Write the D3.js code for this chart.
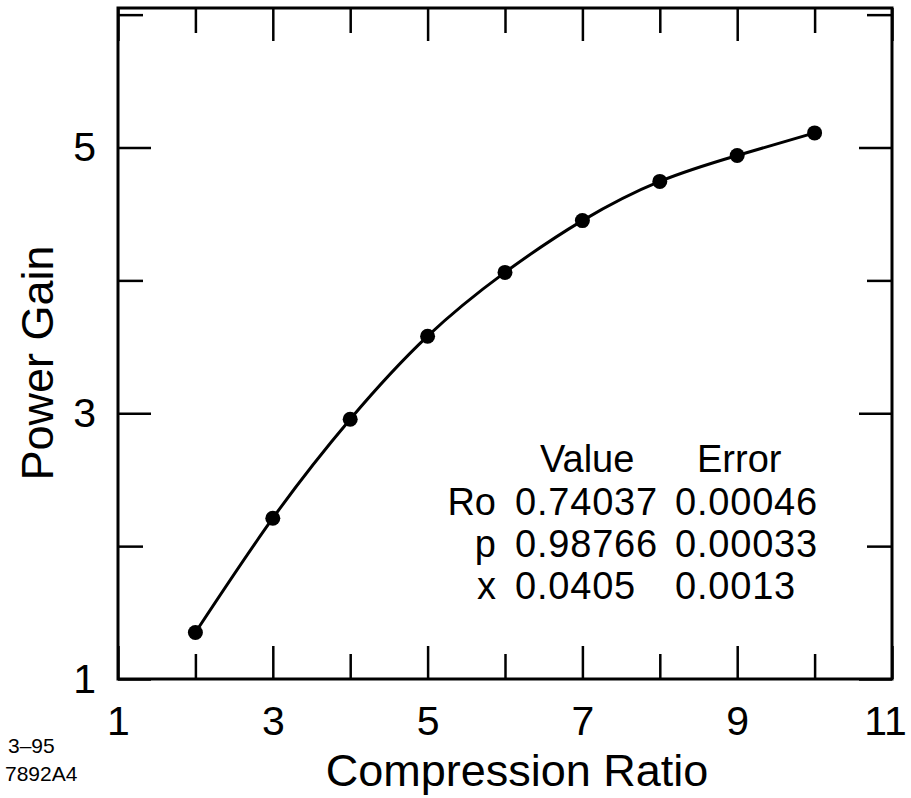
<!DOCTYPE html>
<html>
<head>
<meta charset="utf-8">
<script src="https://cdn.jsdelivr.net/npm/d3@7"></script>
<style>
  html, body { margin: 0; padding: 0; background: #fff; }
  svg { display: block; }
  text { font-family: "Liberation Sans", Arial, Helvetica, sans-serif; fill: #000; }
</style>
</head>
<body>
<script>
// ---- data ----
const compressionRatio = [2, 3, 4, 5, 6, 7, 8, 9, 10];
const powerGain = [1.35, 2.21, 2.955, 3.58, 4.06, 4.45, 4.745, 4.94, 5.11];
const xMajorTicks = [1, 3, 5, 7, 9, 11];
const xMinorTicks = [2, 4, 6, 8, 10];
const yMajorTicks = [1, 3, 5];
const yMinorTicks = [2, 4, 6];
const fitHeader = ["Value", "Error"];
const fitNames = ["Ro", "p", "x"];
const fitValues = ["0.74037", "0.98766", "0.0405"];
const fitErrors = ["0.00046", "0.00033", "0.0013"];
const stamp = ["3\u201395", "7892A4"];

// ---- layout ----
const W = 911, H = 798;
const svg = d3.select("body").append("svg").attr("width", W).attr("height", H);

const x = d3.scaleLinear().domain([1, 11]).range([118, 892]);
const y = d3.scaleLinear().domain([1, 6.05]).range([679, 8]);

const majorLen = 33, minorLen = 25;

function styleAxis(g) {
  g.select(".domain").remove();
  g.selectAll(".tick line").attr("stroke", "#000").attr("stroke-width", 2.5);
  g.selectAll(".tick text").attr("font-size", 41).attr("fill", "#000");
}

// bottom
const xb = svg.append("g").attr("transform", `translate(0,${y(1)})`)
  .call(d3.axisBottom(x).tickValues(xMajorTicks).tickSize(-majorLen).tickPadding(27).tickFormat(d3.format("d")))
  .call(styleAxis).attr("font-family", null);
xb.selectAll(".tick text").filter(d => d === 11).attr("dx", -7);
svg.append("g").attr("transform", `translate(0,${y(1)})`)
  .call(d3.axisBottom(x).tickValues(xMinorTicks).tickSize(-minorLen).tickFormat(""))
  .call(styleAxis);
// top
svg.append("g").attr("transform", `translate(0,${y(6.05)})`)
  .call(d3.axisTop(x).tickValues(xMajorTicks).tickSize(-majorLen).tickFormat(""))
  .call(styleAxis);
svg.append("g").attr("transform", `translate(0,${y(6.05)})`)
  .call(d3.axisTop(x).tickValues(xMinorTicks).tickSize(-minorLen).tickFormat(""))
  .call(styleAxis);
// left
svg.append("g").attr("transform", `translate(${x(1)},0)`)
  .call(d3.axisLeft(y).tickValues(yMajorTicks).tickSize(-majorLen).tickPadding(22).tickFormat(d3.format("d")))
  .call(styleAxis).attr("font-family", null);
svg.append("g").attr("transform", `translate(${x(1)},0)`)
  .call(d3.axisLeft(y).tickValues(yMinorTicks).tickSize(-minorLen).tickFormat(""))
  .call(styleAxis);
// right
svg.append("g").attr("transform", `translate(${x(11)},0)`)
  .call(d3.axisRight(y).tickValues(yMajorTicks).tickSize(-majorLen).tickFormat(""))
  .call(styleAxis);
svg.append("g").attr("transform", `translate(${x(11)},0)`)
  .call(d3.axisRight(y).tickValues(yMinorTicks).tickSize(-minorLen).tickFormat(""))
  .call(styleAxis);

// frame
svg.append("rect")
  .attr("x", x(1)).attr("y", y(6.05))
  .attr("width", x(11) - x(1)).attr("height", y(1) - y(6.05))
  .attr("fill", "none").attr("stroke", "#000").attr("stroke-width", 3);

// curve
const pts = compressionRatio.map((c, i) => [c, powerGain[i]]);
svg.append("path")
  .datum(pts)
  .attr("fill", "none").attr("stroke", "#000").attr("stroke-width", 3)
  .attr("d", d3.line().x(d => x(d[0])).y(d => y(d[1])).curve(d3.curveNatural));

svg.append("g").selectAll("circle").data(pts).join("circle")
  .attr("cx", d => x(d[0])).attr("cy", d => y(d[1])).attr("r", 7.5).attr("fill", "#000");

// axis titles
svg.append("text").attr("x", 517).attr("y", 786).attr("text-anchor", "middle")
  .attr("font-size", 45).text("Compression Ratio");
svg.append("text").attr("transform", "translate(53,363) rotate(-90)").attr("text-anchor", "middle")
  .attr("font-size", 45).text("Power Gain");

// stamp
svg.append("text").attr("x", 8).attr("y", 753).attr("font-size", 21).text(stamp[0]);
svg.append("text").attr("x", 5).attr("y", 781).attr("font-size", 21).text(stamp[1]);

// fit table
const fs = 38;
svg.append("text").attr("x", 540).attr("y", 472).attr("font-size", fs).text(fitHeader[0]);
svg.append("text").attr("x", 697).attr("y", 472).attr("font-size", fs).text(fitHeader[1]);
const rowY = [515, 557, 599];
fitNames.forEach((n, i) => {
  svg.append("text").attr("x", 496).attr("y", rowY[i]).attr("text-anchor", "end").attr("font-size", fs).text(n);
  svg.append("text").attr("x", 515).attr("y", rowY[i]).attr("font-size", fs).attr("letter-spacing", 0.8).text(fitValues[i]);
  svg.append("text").attr("x", 675).attr("y", rowY[i]).attr("font-size", fs).attr("letter-spacing", 0.8).text(fitErrors[i]);
});
</script>
</body>
</html>
